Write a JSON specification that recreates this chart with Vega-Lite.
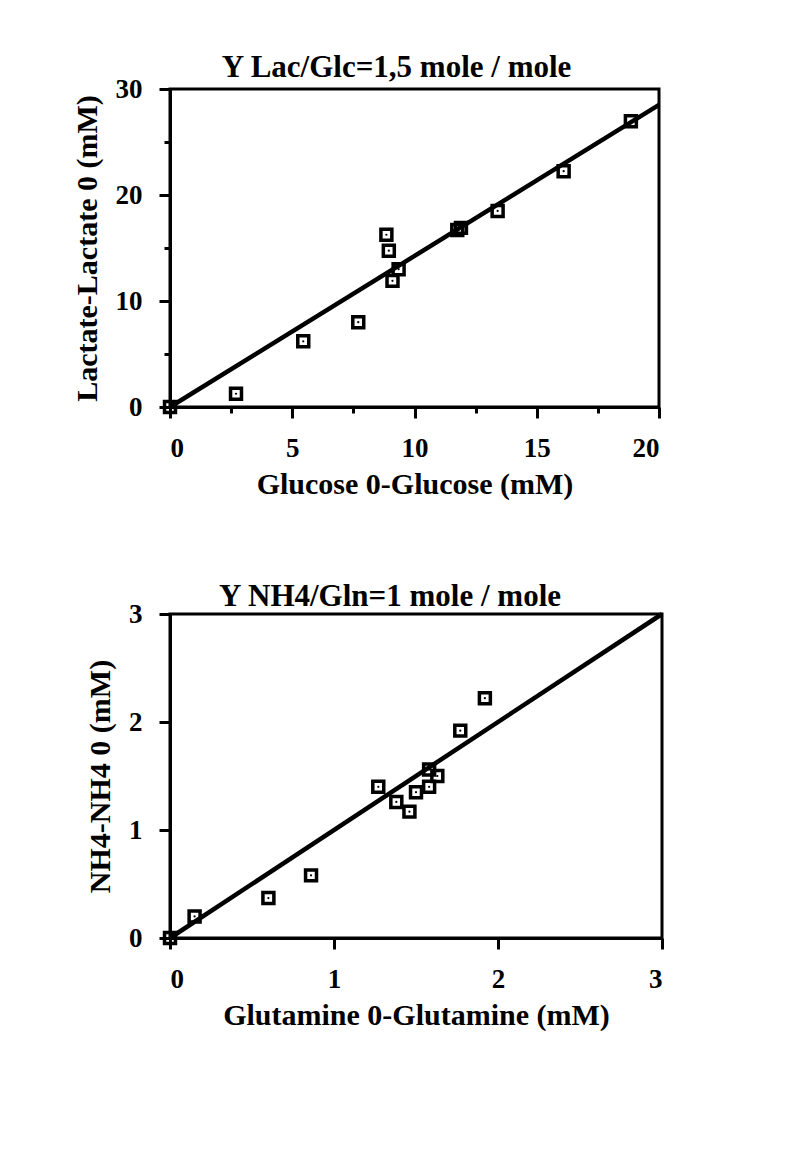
{
  "$schema": "https://vega.github.io/schema/vega-lite/v6.json",
  "background": "white",
  "padding": {"left": 70, "top": 50, "right": 5, "bottom": 5},
  "spacing": 78,
  "config": {
    "font": "Liberation Serif",
    "view": {"stroke": "black", "strokeWidth": 3},
    "axis": {
      "grid": false,
      "domainColor": "black",
      "domainWidth": 3,
      "tickColor": "black",
      "tickWidth": 3,
      "labelFont": "Liberation Serif",
      "labelFontWeight": "bold",
      "labelFontSize": 27,
      "labelColor": "black",
      "titleFont": "Liberation Serif",
      "titleFontWeight": "bold",
      "titleFontSize": 30,
      "titleColor": "black"
    },
    "title": {"font": "Liberation Serif", "fontWeight": "bold", "fontSize": 31, "color": "black"}
  },
  "datasets": {
    "lac": [
      {"glc": 0, "lac": 0},
      {"glc": 2.7, "lac": 1.25},
      {"glc": 5.45, "lac": 6.2},
      {"glc": 7.7, "lac": 8.0},
      {"glc": 8.85, "lac": 16.25},
      {"glc": 8.95, "lac": 14.75},
      {"glc": 9.1, "lac": 11.9},
      {"glc": 9.35, "lac": 13.0},
      {"glc": 11.75, "lac": 16.7},
      {"glc": 11.9, "lac": 16.9},
      {"glc": 13.4, "lac": 18.5},
      {"glc": 16.1, "lac": 22.25},
      {"glc": 18.85, "lac": 26.95}
    ],
    "lacfit": [
      {"glc": 0, "lac": 0},
      {"glc": 20, "lac": 28.5}
    ],
    "nh4": [
      {"gln": 0, "nh4": 0},
      {"gln": 0.15, "nh4": 0.2},
      {"gln": 0.6, "nh4": 0.37},
      {"gln": 0.86, "nh4": 0.58},
      {"gln": 1.27, "nh4": 1.4},
      {"gln": 1.38, "nh4": 1.26},
      {"gln": 1.46, "nh4": 1.17},
      {"gln": 1.5, "nh4": 1.35},
      {"gln": 1.58, "nh4": 1.4},
      {"gln": 1.58, "nh4": 1.56},
      {"gln": 1.63, "nh4": 1.5},
      {"gln": 1.77, "nh4": 1.92},
      {"gln": 1.92, "nh4": 2.22}
    ],
    "nh4fit": [
      {"gln": 0, "nh4": 0},
      {"gln": 3, "nh4": 3}
    ]
  },
  "vconcat": [
    {
      "width": 489,
      "height": 318,
      "title": {"text": "Y Lac/Glc=1,5 mole / mole", "offset": -9, "dx": -18},
      "encoding": {
        "x": {
          "field": "glc", "type": "quantitative",
          "scale": {"domain": [0, 20], "nice": false, "zero": false},
          "axis": {
            "title": "Glucose 0-Glucose (mM)",
            "values": [0, 2.5, 5, 7.5, 10, 12.5, 15, 17.5, 20],
            "labelExpr": "datum.value % 5 == 0 ? datum.label : ''",
            "tickSize": {"condition": {"test": "datum.value % 5 != 0", "value": 6}, "value": 11},
            "labelPadding": 17,
            "titlePadding": 8
          }
        },
        "y": {
          "field": "lac", "type": "quantitative",
          "scale": {"domain": [0, 30], "nice": false, "zero": false},
          "axis": {
            "title": "Lactate-Lactate 0 (mM)",
            "values": [0, 5, 10, 15, 20, 25, 30],
            "labelExpr": "datum.value % 10 == 0 ? datum.label : ''",
            "tickSize": {"condition": {"test": "datum.value % 10 != 0", "value": 6}, "value": 11},
            "labelPadding": 17,
            "titlePadding": 13
          }
        }
      },
      "layer": [
        {"data": {"name": "lacfit"}, "mark": {"type": "line", "color": "black", "strokeWidth": 4.5}},
        {"data": {"name": "lac"}, "mark": {"type": "square", "filled": false, "color": "black", "strokeWidth": 3.5, "size": 120, "opacity": 1}},
        {"data": {"name": "lac"}, "mark": {"type": "circle", "color": "black", "size": 5, "opacity": 1}}
      ]
    },
    {
      "width": 492,
      "height": 324,
      "title": {"text": "Y NH4/Gln=1 mole / mole", "offset": -13, "dx": -26},
      "encoding": {
        "x": {
          "field": "gln", "type": "quantitative",
          "scale": {"domain": [0, 3], "nice": false, "zero": false},
          "axis": {
            "title": "Glutamine 0-Glutamine (mM)",
            "values": [0, 0.5, 1, 1.5, 2, 2.5, 3],
            "format": "d",
            "labelExpr": "datum.value % 1 == 0 ? datum.label : ''",
            "tickSize": {"condition": {"test": "datum.value % 1 != 0", "value": 6}, "value": 11},
            "labelPadding": 17,
            "titlePadding": 8
          }
        },
        "y": {
          "field": "nh4", "type": "quantitative",
          "scale": {"domain": [0, 3], "nice": false, "zero": false},
          "axis": {
            "title": "NH4-NH4 0 (mM)",
            "values": [0, 0.5, 1, 1.5, 2, 2.5, 3],
            "format": "d",
            "labelExpr": "datum.value % 1 == 0 ? datum.label : ''",
            "tickSize": {"condition": {"test": "datum.value % 1 != 0", "value": 6}, "value": 11},
            "labelPadding": 17,
            "titlePadding": 13
          }
        }
      },
      "layer": [
        {"data": {"name": "nh4fit"}, "mark": {"type": "line", "color": "black", "strokeWidth": 4.5}},
        {"data": {"name": "nh4"}, "mark": {"type": "square", "filled": false, "color": "black", "strokeWidth": 3.5, "size": 120, "opacity": 1}},
        {"data": {"name": "nh4"}, "mark": {"type": "circle", "color": "black", "size": 5, "opacity": 1}}
      ]
    }
  ]
}
